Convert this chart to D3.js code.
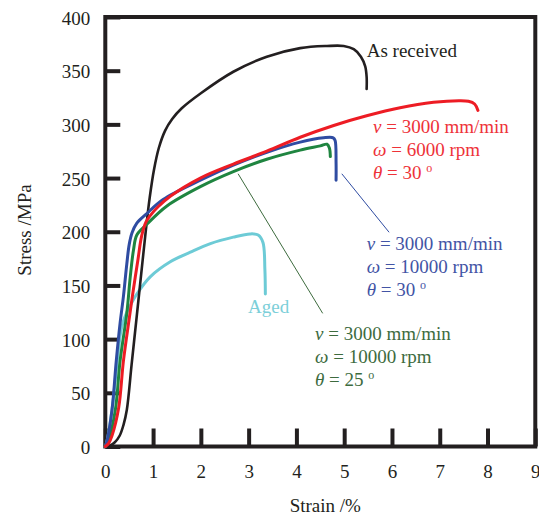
<!DOCTYPE html>
<html>
<head>
<meta charset="utf-8">
<script src="https://cdn.jsdelivr.net/npm/d3@7"></script>
<style>
    body { margin: 0; background: #fff; }
    svg text { font-family: "Liberation Serif", "Times New Roman", serif; }
    .axis text { font-size: 19px; fill: #231f20; }
    .axis line { stroke: #231f20; stroke-width: 4; }
    .chart-line { fill: none; stroke-linejoin: round; stroke-linecap: round; }
</style>
</head>
<body>
<div class="mainview"></div>
<script>

// data ////////////////////////////////////

const strainTicks = [0, 1, 2, 3, 4, 5, 6, 7, 8, 9];
const stressTicks = [0, 50, 100, 150, 200, 250, 300, 350, 400];

// [strain %, stress MPa]
const asReceived = [
    [0, 0], [0.1, 1], [0.2, 4], [0.3, 10], [0.38, 20], [0.45, 34], [0.55, 76],
    [0.65, 118], [0.75, 160], [0.85, 202], [0.93, 232], [1.02, 258], [1.12, 278],
    [1.25, 294], [1.4, 305], [1.6, 315], [2.0, 329], [2.68, 349], [3.38, 363],
    [4.08, 371], [4.64, 373], [4.99, 373], [5.2, 370], [5.35, 363], [5.44, 354],
    [5.47, 344], [5.47, 333]
];

const w6000t30 = [
    [0, 0], [0.07, 3], [0.14, 10], [0.28, 36], [0.38, 80], [0.51, 122],
    [0.59, 147], [0.68, 173], [0.76, 196], [0.85, 209], [0.94, 215], [1.1, 223],
    [1.36, 233], [1.99, 250], [2.68, 263], [3.38, 275], [4.08, 288], [4.78, 299],
    [5.47, 308], [6.17, 315.5], [6.87, 320.5], [7.4, 322], [7.6, 321.5],
    [7.73, 319], [7.8, 313]
];

const w10000t30 = [
    [0, 0], [0.03, 4], [0.14, 34], [0.23, 80], [0.31, 115], [0.38, 140],
    [0.45, 170], [0.5, 188], [0.56, 199], [0.66, 208], [0.87, 217], [1.21, 230],
    [1.99, 248], [2.68, 262], [3.38, 274], [4.08, 283.5], [4.57, 287.5],
    [4.77, 287.5], [4.81, 285], [4.83, 264], [4.83, 248]
];

const w10000t25 = [
    [0, 0], [0.07, 6], [0.21, 34], [0.31, 80], [0.45, 124], [0.52, 157],
    [0.59, 183], [0.66, 197], [0.87, 207], [1.29, 224], [1.99, 242], [2.68, 256],
    [3.38, 267.5], [4.08, 276], [4.5, 280], [4.64, 281.5], [4.69, 278], [4.71, 270]
];

const aged = [
    [0, 0], [0.03, 4], [0.14, 34], [0.25, 80], [0.32, 106], [0.38, 117],
    [0.45, 125], [0.52, 131], [0.66, 142], [0.94, 158], [1.36, 172], [1.78, 181],
    [2.2, 189], [2.68, 195], [3.03, 198], [3.2, 197], [3.3, 190], [3.34, 165],
    [3.35, 142]
];

// leader lines [strain, stress] -> [strain, stress]
const leaderBlue = [[4.95, 254], [5.94, 199.5]];
const leaderGreen = [[2.78, 254], [4.55, 124]];

// chart ////////////////////////////////////

const dim = { width: 539, height: 521 };
const plot = { left: 105.3, right: 535.3, top: 17, bottom: 446.5 };

const colors = {
    black: "#231f20",
    red: "#ed1c24",
    blue: "#2f4ca2",
    green: "#1f8540",
    cyan: "#6dcbd6"
};

const x = d3.scaleLinear()
    .domain([0, 9])
    .range([plot.left, plot.right]);

const y = d3.scaleLinear()
    .domain([0, 400])
    .range([plot.bottom, plot.top]);

const svg = d3.select(".mainview").append("svg")
    .attr("width", dim.width)
    .attr("height", dim.height)
    .attr("viewBox", [0, 0, dim.width, dim.height]);

// axes

svg.append("g")
    .attr("class", "axis x")
    .attr("transform", `translate(0, ${ plot.bottom })`)
    .call(d3.axisBottom(x)
        .tickValues(strainTicks)
        .tickFormat(d3.format("d"))
        .tickSize(-18)
        .tickPadding(18.5))
    .call(g => g.select(".domain").remove());

svg.append("g")
    .attr("class", "axis y")
    .attr("transform", `translate(${ plot.left }, 0)`)
    .call(d3.axisLeft(y)
        .tickValues(stressTicks)
        .tickFormat(d3.format("d"))
        .tickSize(-15)
        .tickPadding(15))
    .call(g => g.select(".domain").remove())
    .call(g => g.selectAll("text").attr("dy", "0.37em"));

svg.append("rect")
    .attr("x", plot.left).attr("y", plot.top)
    .attr("width", plot.right - plot.left)
    .attr("height", plot.bottom - plot.top)
    .style("fill", "none")
    .style("stroke", colors.black)
    .style("stroke-width", 4);

svg.append("text")
    .attr("x", (plot.left + plot.right) / 2 + 5)
    .attr("y", 512)
    .attr("text-anchor", "middle")
    .style("font-size", "19px")
    .style("fill", colors.black)
    .text("Strain /%");

svg.append("text")
    .attr("transform", `translate(31, 230) rotate(-90)`)
    .attr("text-anchor", "middle")
    .style("font-size", "19px")
    .style("fill", colors.black)
    .text("Stress /MPa");

// curves

const line = d3.line()
    .curve(d3.curveCatmullRom.alpha(0.5))
    .x(d => x(d[0]))
    .y(d => y(d[1]));

const series = [
    { data: aged, color: colors.cyan, width: 3 },
    { data: asReceived, color: colors.black, width: 2.6 },
    { data: w10000t25, color: colors.green, width: 3 },
    { data: w10000t30, color: colors.blue, width: 3 },
    { data: w6000t30, color: colors.red, width: 3 }
];

svg.append("g")
    .selectAll("path")
    .data(series)
    .join("path")
    .attr("class", "chart-line")
    .attr("d", d => line(d.data))
    .style("stroke", d => d.color)
    .style("stroke-width", d => d.width);

svg.append("g")
    .selectAll("line")
    .data([[leaderBlue, colors.blue], [leaderGreen, "#3d6b3e"]])
    .join("line")
    .attr("x1", d => x(d[0][0][0])).attr("y1", d => y(d[0][0][1]))
    .attr("x2", d => x(d[0][1][0])).attr("y2", d => y(d[0][1][1]))
    .style("stroke", d => d[1])
    .style("stroke-width", 1);

// labels

function addLabel(px, py, color, lines) {
    const t = svg.append("text")
        .style("font-size", "19px")
        .style("fill", color);
    lines.forEach((l, i) => {
        const row = t.append("tspan")
            .attr("x", px)
            .attr("y", py + i * 23);
        if (l.sym) {
            row.append("tspan").style("font-style", "italic").text(l.sym);
        }
        row.append("tspan").text(l.text);
        if (l.deg) {
            row.append("tspan")
                .attr("dy", -7)
                .style("font-size", "12px")
                .text("o");
        }
    });
}

addLabel(366.7, 57, colors.black, [{ text: "As received" }]);
addLabel(248, 313, "#7ccfd9", [{ text: "Aged" }]);

addLabel(373, 133.3, "#ee3239", [
    { sym: "ν", text: " = 3000 mm/min" },
    { sym: "ω", text: " = 6000 rpm" },
    { sym: "θ", text: " = 30 ", deg: true }
]);

addLabel(366.7, 249.5, "#4254a5", [
    { sym: "ν", text: " = 3000 mm/min" },
    { sym: "ω", text: " = 10000 rpm" },
    { sym: "θ", text: " = 30 ", deg: true }
]);

addLabel(315, 339.5, "#3d6b3e", [
    { sym: "ν", text: " = 3000 mm/min" },
    { sym: "ω", text: " = 10000 rpm" },
    { sym: "θ", text: " = 25 ", deg: true }
]);

</script>
</body>
</html>
